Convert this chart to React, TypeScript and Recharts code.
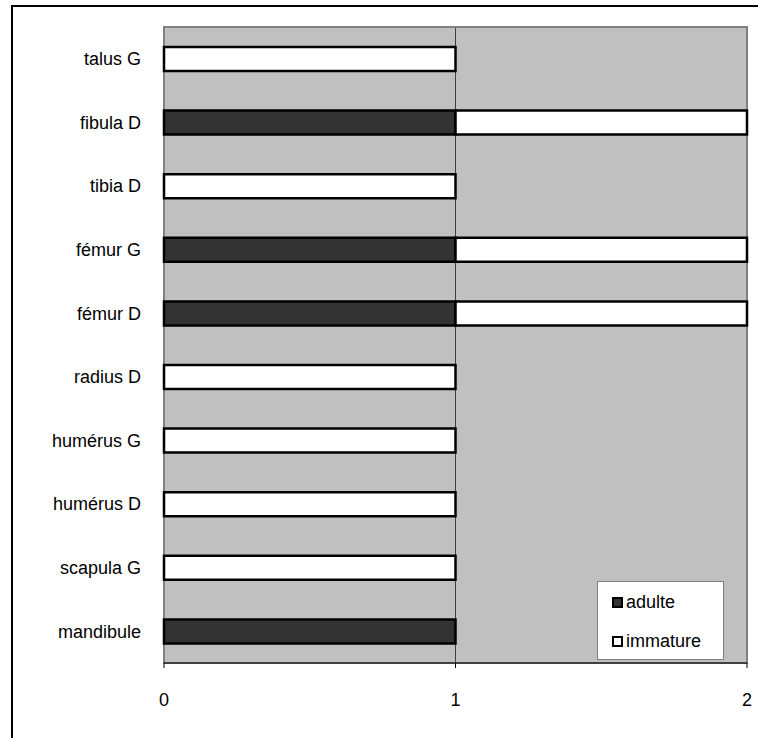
import {
  BarChart,
  Bar,
  XAxis,
  YAxis,
  CartesianGrid,
  ReferenceArea,
} from "recharts";

// Excel order: first category sits at the bottom
const categories = [
  "mandibule",
  "scapula G",
  "humérus D",
  "humérus G",
  "radius D",
  "fémur D",
  "fémur G",
  "tibia D",
  "fibula D",
  "talus G",
];
const adulte = [1, 0, 0, 0, 0, 1, 1, 0, 1, 0];
const immature = [0, 1, 1, 1, 1, 1, 1, 1, 1, 1];
const xTicks = [0, 1, 2];
const slotTicks = [0, 1, 2, 3, 4, 5, 6, 7, 8, 9, 10];

const data = categories.map((name, i) => ({
  name,
  adulte: adulte[i],
  immature: immature[i],
}));

const FONT = "'Liberation Sans', Arial, sans-serif";
const FONT_SIZE = 18;

const series = [
  { key: "adulte", fill: "#333333" },
  { key: "immature", fill: "#ffffff" },
];

const LegendBox = () => (
  <div
    style={{
      position: "absolute",
      left: 597,
      top: 581,
      width: 127,
      height: 79,
      boxSizing: "border-box",
      background: "#fff",
      border: "1px solid #808080",
      fontFamily: FONT,
      fontSize: FONT_SIZE,
      color: "#000",
      paddingLeft: 14,
      paddingTop: 10,
    }}
  >
    {series.map((s) => (
      <div
        key={s.key}
        style={{ display: "flex", alignItems: "center", height: 20, marginBottom: 19 }}
      >
        <span
          style={{
            display: "inline-block",
            width: 7,
            height: 7,
            border: "2px solid #000",
            background: s.fill,
            marginRight: 3,
          }}
        />
        <span>{s.key}</span>
      </div>
    ))}
  </div>
);

const App = () => {
  return (
    <div
      style={{
        position: "absolute",
        left: 0,
        top: 0,
        width: 758,
        height: 738,
        overflow: "hidden",
        background: "#fff",
      }}
    >
      <div
        style={{
          position: "absolute",
          left: 11,
          top: 5,
          width: 780,
          height: 780,
          border: "2px solid #000",
        }}
      />
      <div style={{ position: "absolute", left: 0, top: 0 }}>
        <BarChart
          width={758}
          height={738}
          data={data}
          layout="vertical"
          margin={{ top: 27, right: 11, bottom: 35, left: 0 }}
          barSize={24}
        >
          <CartesianGrid
            horizontal={false}
            stroke="#404040"
            fill="#c0c0c0"
            fillOpacity={1}
          />
          <ReferenceArea
            x1={0}
            x2={2}
            fill="none"
            stroke="#808080"
            strokeWidth={2}
            ifOverflow="visible"
          />
          <XAxis
            type="number"
            domain={[0, 2]}
            ticks={xTicks}
            height={40}
            axisLine={{ stroke: "#000" }}
            tickLine={{ stroke: "#000" }}
            tickSize={5}
            tickMargin={25}
            tick={{ fill: "#000", fontFamily: FONT, fontSize: FONT_SIZE }}
          />
          <YAxis
            type="category"
            dataKey="name"
            reversed
            width={164}
            axisLine={false}
            tickLine={false}
            tickSize={0}
            tickMargin={23}
            interval={0}
            tick={{ fill: "#000", fontFamily: FONT, fontSize: FONT_SIZE }}
          />
          <YAxis
            yAxisId="slots"
            type="number"
            domain={[0, 10]}
            ticks={slotTicks}
            width={0}
            axisLine={{ stroke: "#000" }}
            tickLine={{ stroke: "#000" }}
            tickSize={6}
            tickFormatter={() => ""}
          />
          <Bar
            dataKey="adulte"
            stackId="a"
            fill="#333333"
            stroke="#000"
            strokeWidth={2.5}
            isAnimationActive={false}
          />
          <Bar
            dataKey="immature"
            stackId="a"
            fill="#ffffff"
            stroke="#000"
            strokeWidth={2.5}
            isAnimationActive={false}
          />
        </BarChart>
      </div>
      <LegendBox />
    </div>
  );
};

export default App;
